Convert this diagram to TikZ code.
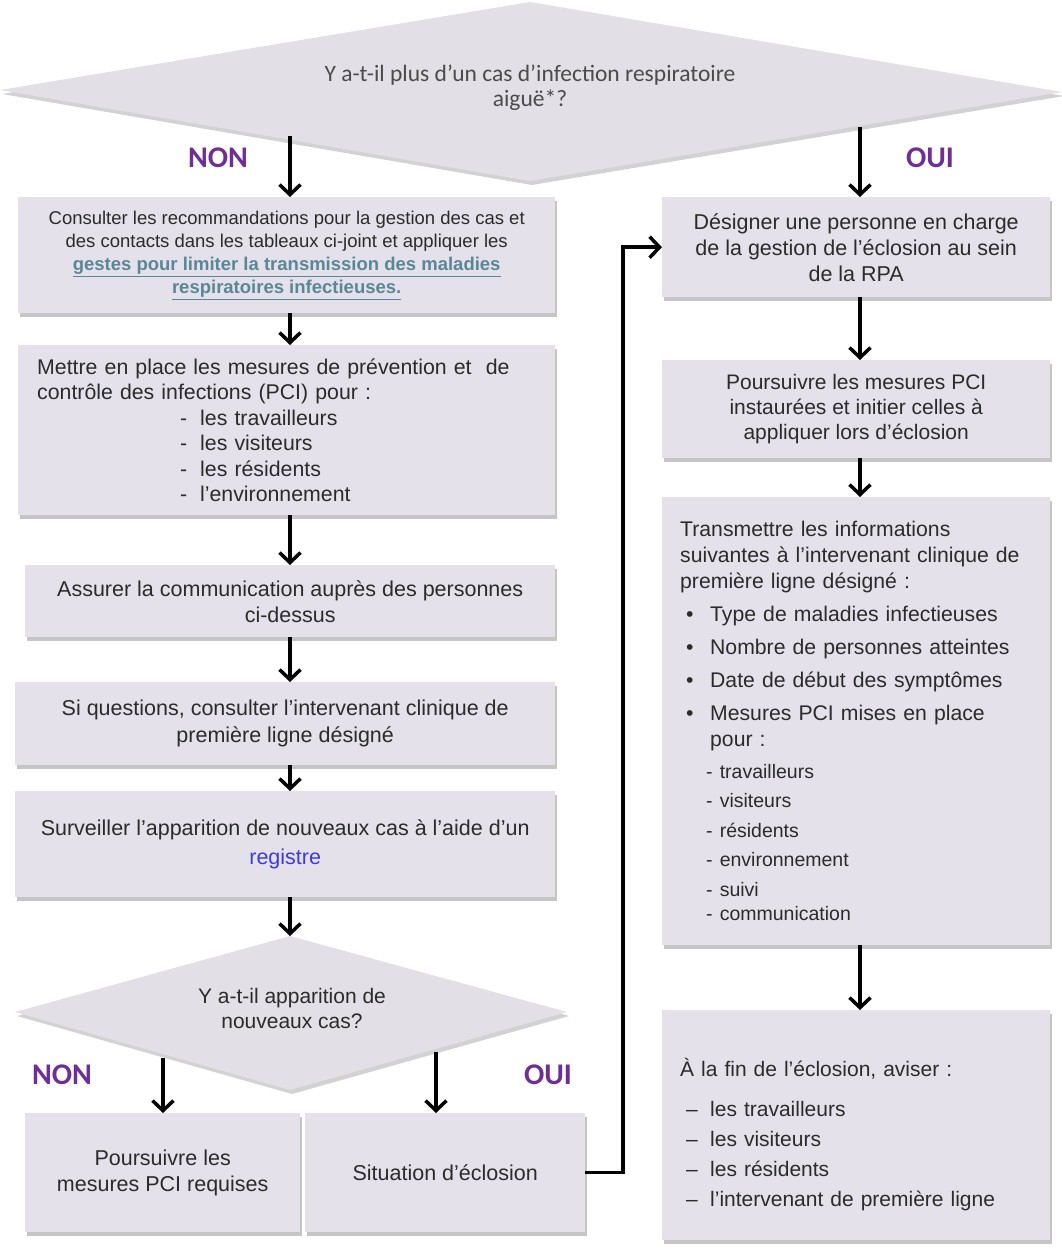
\documentclass[tikz,border=0pt]{standalone}
\usepackage{fontspec}
\setmainfont{Liberation Sans}
\newfontfamily\calfont{Carlito}
\usetikzlibrary{arrows.meta,shadows}
\definecolor{boxfill}{HTML}{E4E1EA}
\definecolor{diafill}{HTML}{E2DFE6}
\definecolor{txt}{HTML}{2B2B2B}
\definecolor{purp}{HTML}{6E2E96}
\definecolor{linkc}{HTML}{5A8797}
\definecolor{regc}{HTML}{3A3AE6}
\newcommand{\fsz}[2]{\fontsize{#1pt}{#2pt}\selectfont}
\begin{document}
\begin{tikzpicture}[x=1pt,y=-1pt,
  stepbox/.style={fill=boxfill, drop shadow={shadow xshift=2pt,shadow yshift=-4pt,fill=black!45}, inner sep=0pt, text=txt, anchor=north west},
  diashape/.style={fill=diafill, drop shadow={shadow xshift=2pt,shadow yshift=-4pt,fill=black!35}},
  flowarrow/.style={line width=3.5pt, -{Straight Barb[length=10pt,width=21pt]}},
  answer/.style={text=purp, font=\calfont\bfseries\fsz{30}{32}},
]
\useasboundingbox (0,0) rectangle (1062,1253);
% top diamond
\coordinate (d1L) at (0,90);
\coordinate (d1T) at (530,2);
\coordinate (d1R) at (1062,92);
\coordinate (d1B) at (530,181);
\draw[diashape, draw=none] (d1L) -- (d1T) -- (d1R) -- (d1B) -- cycle;
\node[text=txt!85, align=center, font=\calfont\fsz{23.5}{25}] (q1) at (530,88) {Y a-t-il plus d’un cas d’infection respiratoire\\aiguë*?};
\node[answer] (non1) at (218,158) {NON};
\node[answer] (oui1) at (930,158) {OUI};
\coordinate (lx) at (290,0);
\coordinate (rx) at (860,0);
\coordinate (d1n) at (290,136);
\coordinate (d1o) at (860,127);
% left column
\node[stepbox, minimum width=537pt, minimum height=116pt, align=center, font=\fsz{18.5}{23}] (b1) at (18,197)
 {Consulter les recommandations pour la gestion des cas et\\des contacts dans les tableaux ci-joint et appliquer les\\
 {\color{linkc}\bfseries\underline{gestes pour limiter la transmission des maladies}}\\
 {\color{linkc}\bfseries\underline{respiratoires infectieuses.}}};
\node[stepbox, minimum width=537pt, minimum height=170pt, align=left, text width=499pt, font=\fsz{21.3}{25.5}] (b2) at (18,345)
 {Mettre en place les mesures de prévention et \ de\\contrôle des infections (PCI) pour :\\
 \hspace*{143pt}\makebox[20pt][l]{-}les travailleurs\\
 \hspace*{143pt}\makebox[20pt][l]{-}les visiteurs\\
 \hspace*{143pt}\makebox[20pt][l]{-}les résidents\\
 \hspace*{143pt}\makebox[20pt][l]{-}l’environnement};
\node[stepbox, minimum width=530pt, minimum height=72pt, align=center, font=\fsz{21.5}{26}] (b3) at (25,565)
 {Assurer la communication auprès des personnes\\ci-dessus};
\node[stepbox, minimum width=540pt, minimum height=83pt, align=center, font=\fsz{21.5}{27}] (b4) at (15,682)
 {Si questions, consulter l’intervenant clinique de\\première ligne désigné};
\node[stepbox, minimum width=540pt, minimum height=106pt, align=center, font=\fsz{21.5}{29}] (b5) at (15,791)
 {Surveiller l’apparition de nouveaux cas à l’aide d’un\\{\color{regc}registre}};
% second diamond
\coordinate (d2L) at (15,1012);
\coordinate (d2T) at (290,936);
\coordinate (d2R) at (567,1012);
\coordinate (d2B) at (290,1090);
\draw[diashape, draw=none] (d2L) -- (d2T) -- (d2R) -- (d2B) -- cycle;
\node[text=txt, align=center, font=\fsz{21}{25}] (q2) at (292,1008) {Y a-t-il apparition de\\nouveaux cas?};
\node[answer] (non2) at (62,1075) {NON};
\node[answer] (oui2) at (548,1075) {OUI};
\coordinate (d2n) at (163,1058);
\coordinate (d2o) at (436,1052);
\node[stepbox, minimum width=275pt, minimum height=119pt, align=center, font=\fsz{21.5}{26}] (bn) at (25,1113)
 {Poursuivre les\\mesures PCI requises};
\node[stepbox, minimum width=280pt, minimum height=119pt, align=center, font=\fsz{21.5}{26}] (bo) at (305,1113)
 {Situation d’éclosion};
% right column
\node[stepbox, minimum width=388pt, minimum height=100pt, align=center, font=\fsz{21.5}{26}] (r1) at (662,197)
 {Désigner une personne en charge\\de la gestion de l’éclosion au sein\\de la RPA};
\node[stepbox, minimum width=388pt, minimum height=98pt, align=center, font=\fsz{21}{25}] (r2) at (662,360)
 {Poursuivre les mesures PCI\\instaurées et initier celles à\\appliquer lors d’éclosion};
\node[stepbox, minimum width=388pt, minimum height=448pt, align=left, text width=352pt, font=\fsz{21.2}{26}] (r3) at (662,497)
 {Transmettre les informations\\suivantes à l’intervenant clinique de\\première ligne désigné :\\[7pt]
 \hspace*{6pt}\makebox[24pt][l]{\textbullet}Type de maladies infectieuses\\[7pt]
 \hspace*{6pt}\makebox[24pt][l]{\textbullet}Nombre de personnes atteintes\\[7pt]
 \hspace*{6pt}\makebox[24pt][l]{\textbullet}Date de début des symptômes\\[7pt]
 \hspace*{6pt}\makebox[24pt][l]{\textbullet}Mesures PCI mises en place\\
 \hspace*{30pt}pour :\\[6pt]
 {\fsz{19.5}{26}\hspace*{26pt}- travailleurs\\[3pt]
 \hspace*{26pt}- visiteurs\\[4pt]
 \hspace*{26pt}- résidents\\[3pt]
 \hspace*{26pt}- environnement\\[4pt]
 \hspace*{26pt}- suivi\\[-2pt]
 \hspace*{26pt}- communication}};
\node[stepbox, minimum width=388pt, minimum height=230pt, align=left, text width=352pt, font=\fsz{21}{30}] (r4) at (662,1010)
 {\rule{0pt}{36pt}À la fin de l’éclosion, aviser :\\[10pt]
 \hspace*{6pt}\makebox[24pt][l]{–}les travailleurs\\
 \hspace*{6pt}\makebox[24pt][l]{–}les visiteurs\\
 \hspace*{6pt}\makebox[24pt][l]{–}les résidents\\
 \hspace*{6pt}\makebox[24pt][l]{–}l’intervenant de première ligne};
% connectors
\draw[flowarrow] (d1n) -- (d1n |- b1.north);
\draw[flowarrow] (d1o) -- (d1o |- r1.north);
\draw[flowarrow] (b1.south -| lx) -- (b2.north -| lx);
\draw[flowarrow] (b2.south -| lx) -- (b3.north -| lx);
\draw[flowarrow] (b3.south -| lx) -- (b4.north -| lx);
\draw[flowarrow] (b4.south -| lx) -- (b5.north -| lx);
\draw[flowarrow] (b5.south -| lx) -- (d2T);
\draw[flowarrow] (d2n) -- (d2n |- bn.north);
\draw[flowarrow] (d2o) -- (d2o |- bo.north);
\draw[flowarrow] (r1.south -| rx) -- (r2.north -| rx);
\draw[flowarrow] (r2.south -| rx) -- (r3.north -| rx);
\draw[flowarrow] (r3.south -| rx) -- (r4.north -| rx);
\coordinate (cx) at (623,0);
\draw[flowarrow] (bo.east) -- (bo.east -| cx) -- (cx |- r1.west) -- (r1.west);
\end{tikzpicture}
\end{document}
